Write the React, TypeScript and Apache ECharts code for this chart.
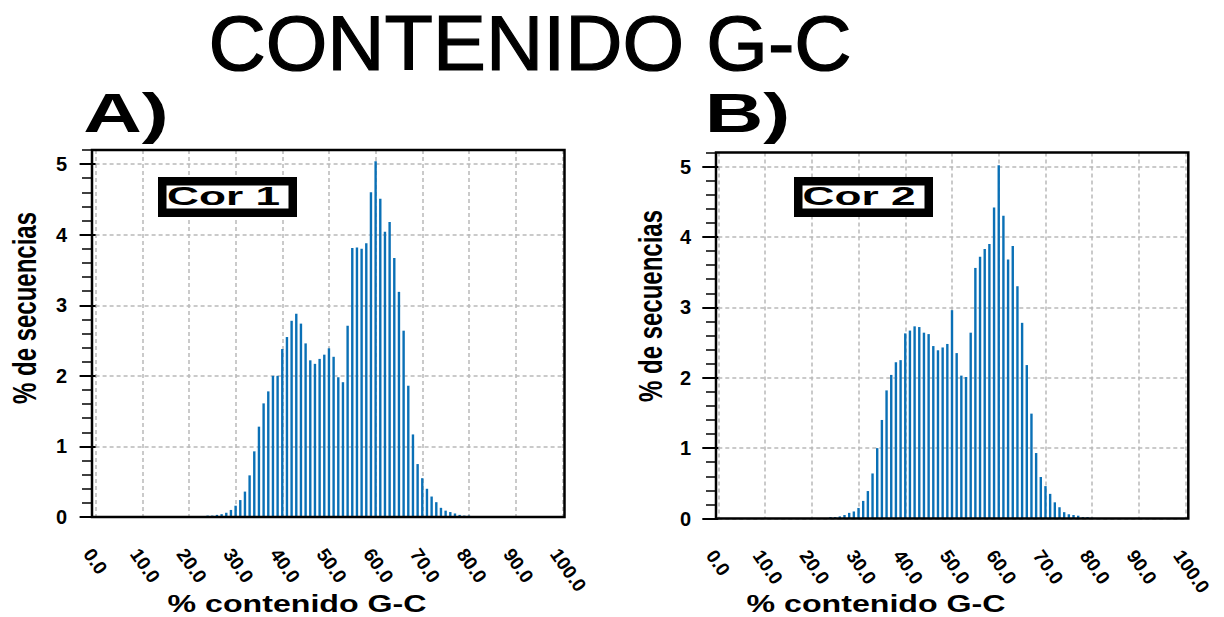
import React, { useEffect, useRef } from "react";
import * as echarts from "echarts";

// G-C content bins (% of G+C per sequence) and the share of sequences in each bin
const gcPercent = [
  24, 25, 26, 27, 28, 29, 30, 31, 32, 33, 34, 35, 36, 37, 38, 39, 40, 41, 42, 43,
  44, 45, 46, 47, 48, 49, 50, 51, 52, 53, 54, 55, 56, 57, 58, 59, 60, 61, 62, 63,
  64, 65, 66, 67, 68, 69, 70, 71, 72, 73, 74, 75, 76, 77, 78, 79, 80,
];

const cor1Values = [
  0.02, 0.02, 0.03, 0.04, 0.06, 0.1, 0.16, 0.24, 0.36, 0.59, 0.93, 1.28, 1.61, 1.78, 2.0, 2.0, 2.38, 2.55, 2.78, 2.88,
  2.74, 2.46, 2.22, 2.17, 2.24, 2.3, 2.39, 2.27, 1.98, 1.91, 2.71, 3.81, 3.82, 3.8, 3.88, 4.6, 5.04, 4.51, 4.04, 4.18,
  3.67, 3.19, 2.64, 1.86, 1.17, 0.75, 0.55, 0.4, 0.29, 0.21, 0.13, 0.09, 0.07, 0.05, 0.03, 0.02, 0.02,
];

const cor2Values = [
  0.02, 0.02, 0.03, 0.05, 0.08, 0.1, 0.15, 0.25, 0.39, 0.64, 1.0, 1.4, 1.82, 2.04, 2.22, 2.25, 2.63, 2.67, 2.73, 2.72,
  2.64, 2.62, 2.45, 2.39, 2.43, 2.48, 2.96, 2.35, 2.03, 2.01, 2.64, 3.56, 3.72, 3.83, 3.9, 4.42, 5.02, 4.3, 3.68, 3.87,
  3.3, 2.78, 2.18, 1.49, 0.93, 0.59, 0.46, 0.35, 0.23, 0.16, 0.09, 0.06, 0.05, 0.04, 0.02, 0.02, 0.01,
];

const xTickLabels = ["0.0", "10.0", "20.0", "30.0", "40.0", "50.0", "60.0", "70.0", "80.0", "90.0", "100.0"];
const yMajorTicks = [0, 1, 2, 3, 4, 5];

const chartTitle = "CONTENIDO G-C";
const xAxisTitle = "% contenido G-C";
const yAxisTitle = "% de secuencias";

const FONT = "'Liberation Sans', Arial, Helvetica, sans-serif";
const BAR_COLOR = "#0a70b6";
const GRID_COLOR = "#b9b9b9";
const Y_MAX = 5.2;

// Page layout of the two panels (pixels)
const panels = [
  {
    letter: "A)",
    tag: "Cor 1",
    values: cor1Values,
    x0: 95.6,
    x100: 562.3,
    top: 150,
    bottom: 517,
    frameL: 92,
    frameR: 564.5,
    letterX: 126,
    tagBox: [158, 177, 297, 217],
    tagX: 223.5,
    yNameX: 25,
    yNameY: 308,
    xNameX: 297,
  },
  {
    letter: "B)",
    tag: "Cor 2",
    values: cor2Values,
    x0: 718.3,
    x100: 1185.7,
    top: 152.5,
    bottom: 518.5,
    frameL: 716,
    frameR: 1188.3,
    letterX: 747.5,
    tagBox: [794, 177, 933, 217],
    tagX: 859,
    yNameX: 651,
    yNameY: 306,
    xNameX: 876,
  },
];

function centeredText(text: string, font: string, extra: any) {
  return {
    type: "text",
    z: 20,
    ...extra,
    style: {
      text,
      font,
      fill: "#000",
      align: "center",
      verticalAlign: "middle",
      textAlign: "center",
      textVerticalAlign: "middle",
      ...(extra.style || {}),
    },
  };
}

function buildOption() {
  const grid: any[] = [];
  const xAxis: any[] = [];
  const yAxis: any[] = [];
  const series: any[] = [];
  const graphic: any[] = [];

  graphic.push(
    centeredText(chartTitle, `normal 77px ${FONT}`, {
      x: 530,
      y: 43.5,
      scaleX: 1.03,
      style: { stroke: "#000", lineWidth: 1.2 },
    })
  );

  panels.forEach((p, i) => {
    grid.push({
      left: p.x0,
      top: p.top,
      width: p.x100 - p.x0,
      height: p.bottom - p.top,
      containLabel: false,
    });

    xAxis.push({
      type: "value",
      gridIndex: i,
      min: 0,
      max: 100,
      interval: 10,
      axisLine: { show: false },
      axisTick: { show: false },
      splitLine: { show: true, lineStyle: { color: GRID_COLOR, type: [4, 3], width: 1.5 } },
      axisLabel: {
        show: true,
        rotate: -55,
        margin: 28,
        align: "left",
        verticalAlign: "top",
        color: "#000",
        fontFamily: FONT,
        fontWeight: "bold",
        fontSize: 19,
        formatter: (v: number) => xTickLabels[Math.round(v / 10)] ?? "",
      },
    });

    const offset = p.x0 - p.frameL;

    // major ticks, labels and horizontal grid lines
    yAxis.push({
      type: "value",
      gridIndex: i,
      position: "left",
      offset,
      min: 0,
      max: Y_MAX,
      interval: 1,
      axisLine: { show: false },
      axisTick: {
        show: true,
        length: 16,
        customValues: yMajorTicks,
        lineStyle: { color: "#000", width: 2 },
      },
      axisLabel: {
        show: true,
        customValues: yMajorTicks,
        margin: 25,
        color: "#000",
        fontFamily: FONT,
        fontWeight: "bold",
        fontSize: 20,
        formatter: (v: number) => String(v),
      },
      splitLine: { show: true, lineStyle: { color: GRID_COLOR, type: [4, 3], width: 1.5 } },
    });

    // minor ticks every 0.2
    yAxis.push({
      type: "value",
      gridIndex: i,
      position: "left",
      offset,
      min: 0,
      max: Y_MAX,
      interval: 0.2,
      axisLine: { show: false },
      axisTick: { show: true, length: 10, lineStyle: { color: "#000", width: 1.5 } },
      axisLabel: { show: false },
      splitLine: { show: false },
    });

    series.push({
      type: "bar",
      name: p.tag,
      xAxisIndex: i,
      yAxisIndex: i * 2,
      data: gcPercent.map((g, j) => [g, p.values[j]]),
      barWidth: 2.4,
      itemStyle: { color: BAR_COLOR },
      silent: true,
    });

    // plot frame
    graphic.push({
      type: "rect",
      z: 15,
      silent: true,
      shape: { x: p.frameL, y: p.top, width: p.frameR - p.frameL, height: p.bottom - p.top },
      style: { fill: "none", stroke: "#000", lineWidth: 2.5 },
    });

    // panel letter
    graphic.push(centeredText(p.letter, `bold 56px ${FONT}`, { x: p.letterX, y: 113, scaleX: 1.45 }));

    // sample tag box
    const [l, t, r, b] = p.tagBox;
    const bw = 8.5;
    graphic.push({
      type: "rect",
      z: 16,
      shape: { x: l + bw / 2, y: t + bw / 2, width: r - l - bw, height: b - t - bw },
      style: { fill: "#fff", stroke: "#000", lineWidth: bw },
    });
    graphic.push(
      centeredText(p.tag, `bold 26px ${FONT}`, { x: p.tagX, y: (t + b) / 2 - 0.5, scaleX: 1.7, z: 17 })
    );

    // axis titles
    graphic.push(
      centeredText(yAxisTitle, `bold 24px ${FONT}`, {
        x: p.yNameX,
        y: p.yNameY,
        rotation: Math.PI / 2,
        scaleY: 1.38,
      })
    );
    graphic.push(centeredText(xAxisTitle, `bold 24px ${FONT}`, { x: p.xNameX, y: 604, scaleX: 1.34 }));
  });

  return {
    animation: false,
    backgroundColor: "#ffffff",
    grid,
    xAxis,
    yAxis,
    series,
    graphic,
  };
}

export default function App() {
  const ref = useRef<HTMLDivElement>(null);

  useEffect(() => {
    if (!ref.current) return;
    const chart = echarts.init(ref.current, undefined, { renderer: "svg" });
    chart.setOption(buildOption());
    return () => chart.dispose();
  }, []);

  return (
    <div
      ref={ref}
      style={{ position: "fixed", left: 0, top: 0, width: 1224, height: 617, background: "#fff" }}
    />
  );
}
